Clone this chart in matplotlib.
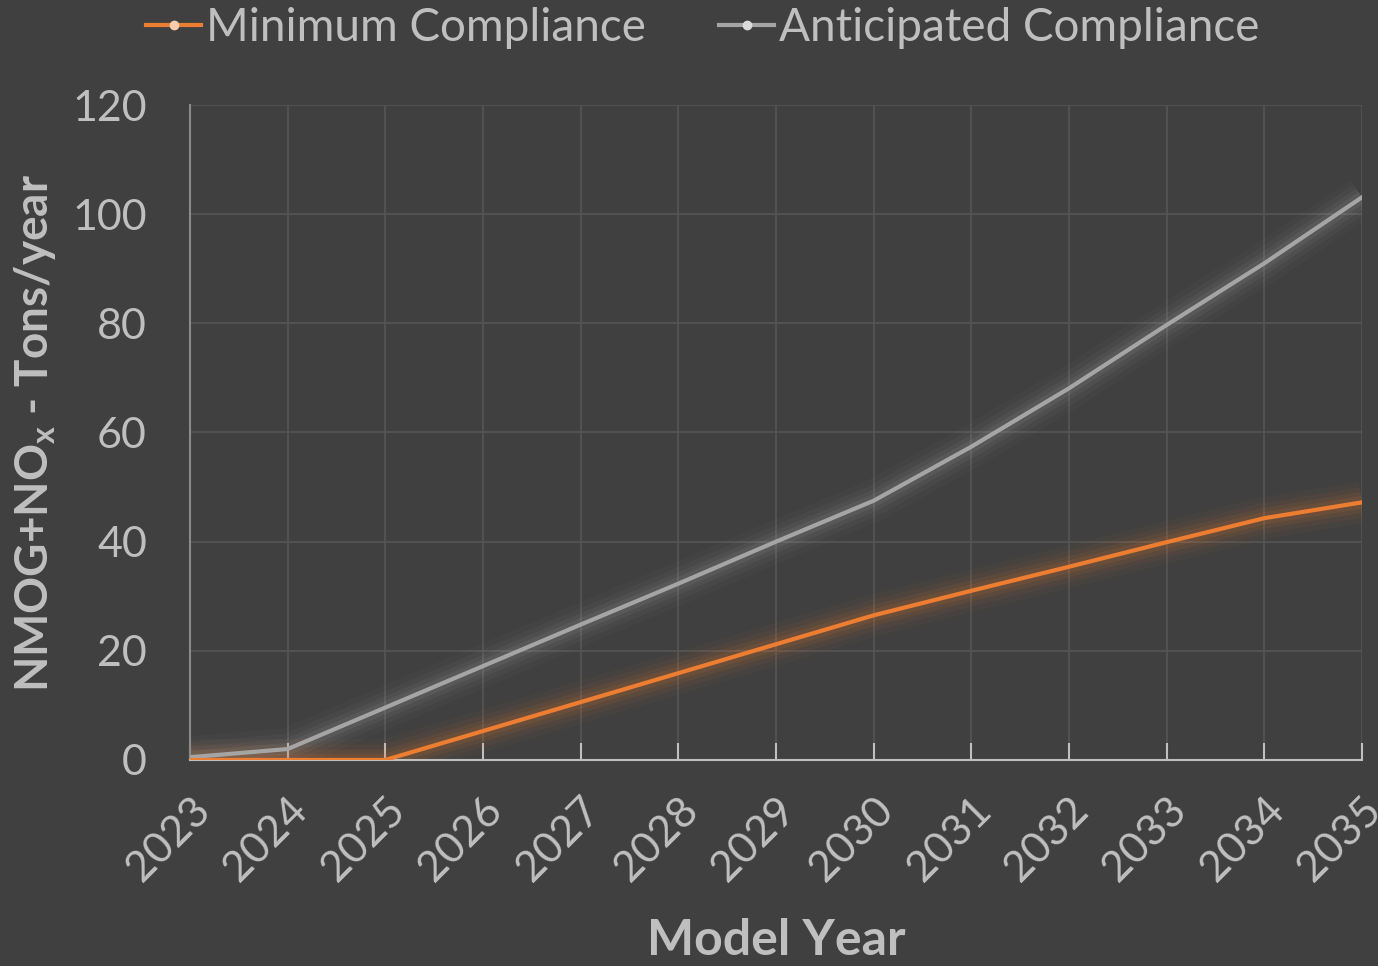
import matplotlib.pyplot as plt
from matplotlib.lines import Line2D

years = [2023, 2024, 2025, 2026, 2027, 2028, 2029, 2030, 2031, 2032, 2033, 2034, 2035]
minimum = [0, 0, 0, 5.3, 10.6, 15.9, 21.2, 26.5, 31.0, 35.4, 39.9, 44.3, 47.2]
anticipated = [0.5, 2.0, 9.6, 17.2, 24.8, 32.3, 40.0, 47.5, 57.4, 68.1, 79.7, 91.0, 103.1]

BG = "#404040"
TXT = "#bfbfbf"
ORANGE = "#ed7d31"
GREY = "#a5a5a5"

plt.rcParams["font.family"] = ["Lato", "DejaVu Sans"]

fig = plt.figure(figsize=(13.78, 9.66), dpi=100, facecolor=BG)
ax = fig.add_axes([0.1379, 0.2133, 0.8505, 0.678])
ax.set_facecolor(BG)

x = list(range(len(years)))

# soft glow under each line
for series, color in [(anticipated, GREY), (minimum, ORANGE)]:
    for lw, a in [(30, 0.04), (22, 0.06), (15, 0.08), (9, 0.11)]:
        ax.plot(x, series, color=color, lw=lw, alpha=a, solid_capstyle="butt", zorder=2)

ax.plot(x, anticipated, color=GREY, lw=3, zorder=3)
ax.plot(x, minimum, color=ORANGE, lw=3, zorder=4)

ax.set_xlim(0, len(years) - 1)
ax.set_ylim(0, 120)
ax.set_yticks(range(0, 121, 20))
ax.set_xticks(x)
ax.set_xticklabels([str(y) for y in years], rotation=45, ha="right",
                   rotation_mode="anchor", fontsize=31, color=TXT)
ax.tick_params(axis="y", length=0, labelsize=31, labelcolor=TXT, pad=31)
ax.tick_params(axis="x", direction="in", length=12, width=1.5, color=TXT, pad=22)

ax.grid(True, color="#555555", lw=1.2)
ax.set_axisbelow(True)
for side in ["top", "right"]:
    ax.spines[side].set_visible(False)
ax.spines["bottom"].set_color(TXT)
ax.spines["bottom"].set_linewidth(1.5)
ax.spines["left"].set_color("#8a8a8a")
ax.spines["left"].set_linewidth(1.5)

ax.set_xlabel("Model Year", fontsize=36, fontweight="bold", color=TXT, labelpad=22)
ax.set_ylabel("NMOG+NO$_\\mathregular{x}$ - Tons/year", fontsize=33,
              fontweight="bold", color=TXT, labelpad=10)

handles = [
    Line2D([0], [0], color=ORANGE, lw=3, marker="o", markersize=6,
           markerfacecolor="#f8cbad", markeredgecolor="#f8cbad"),
    Line2D([0], [0], color=GREY, lw=3, marker="o", markersize=6,
           markerfacecolor="#dbdbdb", markeredgecolor="#dbdbdb"),
]
leg = fig.legend(handles, ["Minimum Compliance", "Anticipated Compliance"],
                 loc="upper center", bbox_to_anchor=(0.51, 1.035), ncol=2,
                 frameon=False, fontsize=33, handlelength=1.2, handletextpad=0.1,
                 columnspacing=1.6)
for t in leg.get_texts():
    t.set_color(TXT)

fig.savefig("out.png", dpi=100, facecolor=BG)
